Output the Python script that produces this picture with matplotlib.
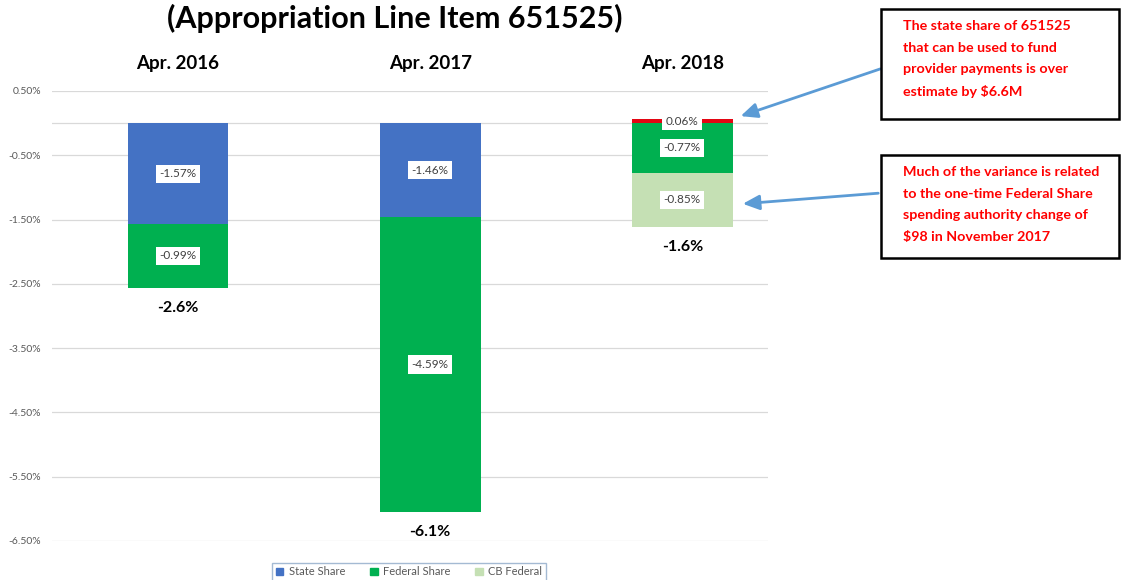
import numpy as np
from matplotlib import pyplot as plt
from matplotlib.patches import Patch

plt.rcParams['font.family'] = ['Lato', 'DejaVu Sans']

categories = ["Apr. 2016", "Apr. 2017", "Apr. 2018"]
state_share = [-1.57, -1.46, 0.06]
federal_share = [-0.99, -4.59, -0.77]
cb_federal = [0.0, 0.0, -0.85]
totals = [-2.6, -6.1, -1.6]
y_ticks = [0.5, -0.5, -1.5, -2.5, -3.5, -4.5, -5.5, -6.5]

#
# colours
#

blue = "#4472C4"
green = "#00B050"
light_green = "#C5E0B4"
red = "#E30613"
grid_col = "#D9D9D9"

fig = plt.figure(figsize=(11.24, 5.8), dpi=100)
ax = fig.add_axes([52 / 1124, 39 / 580, 716 / 1124, 450 / 580])

x = np.arange(len(categories))
width = 0.4

state = np.array(state_share)
federal = np.array(federal_share)
cb = np.array(cb_federal)

state_cols = [blue if v < 0 else red for v in state]
ax.bar(x, state, width, color=state_cols, zorder=2)
fed_bottom = np.minimum(state, 0)
ax.bar(x, federal, width, bottom=fed_bottom, color=green, zorder=2)
cb_bottom = fed_bottom + federal
ax.bar(x, cb, width, bottom=cb_bottom, color=light_green, zorder=2)

box = dict(boxstyle="square,pad=0.3", fc="white", ec="none")


def seg_label(xi, bottom, val):
    if val == 0:
        return
    ax.text(xi, bottom + val / 2, f"{val:.2f}%", ha="center", va="center",
            fontsize=8.5, color="#404040", bbox=box, zorder=3)


for i in range(len(categories)):
    seg_label(x[i], 0, state[i])
    seg_label(x[i], fed_bottom[i], federal[i])
    seg_label(x[i], cb_bottom[i], cb[i])
    bottom = cb_bottom[i] + cb[i]
    ax.text(x[i], bottom - 0.31, f"{totals[i]:.1f}%", ha="center", va="center",
            fontsize=11.5, fontweight="bold", color="black")
    ax.text(x[i], 1.06, categories[i], ha="center", va="center", fontsize=13.5,
            fontweight="bold", color="black", transform=ax.get_xaxis_transform())

ax.set_xlim(-0.5, 2.34)
ax.set_ylim(-6.5, 0.5)
ax.set_yticks(y_ticks)
ax.set_yticklabels([f"{t:.2f}%" for t in y_ticks], fontsize=7.5, color="#595959")
ax.set_xticks([])
ax.tick_params(axis="y", length=0, pad=8)
ax.grid(axis="y", color=grid_col, lw=0.9, zorder=0)
ax.axhline(0, color=grid_col, lw=0.9, zorder=1)
for s in ax.spines.values():
    s.set_visible(False)

fig.text(395 / 1124, 1 - 18 / 580, "(Appropriation Line Item 651525)",
         ha="center", va="center", fontsize=22, fontweight="bold")

#
# legend
#

handles = [Patch(color=blue), Patch(color=green), Patch(color=light_green)]
leg = fig.legend(handles, ["State Share", "Federal Share", "CB Federal"], ncol=3,
                 loc="upper center", bbox_to_anchor=(409 / 1124, 1 - 557 / 580),
                 fontsize=8, frameon=True, fancybox=False, handlelength=0.7,
                 handleheight=0.7, columnspacing=2.2, handletextpad=0.5,
                 borderpad=0.35)
leg.get_frame().set_edgecolor("#8EA9C8")
for t in leg.get_texts():
    t.set_color("#595959")

#
# callouts
#

note1 = ("The state share of 651525\nthat can be used to fund\n"
         "provider payments is over\nestimate by $6.6M")
note2 = ("Much of the variance is related\nto the one-time Federal Share\n"
         "spending authority change of\n$98 in November 2017")

for (y0, y1), note in [((9, 119), note1), ((155, 258), note2)]:
    rect = plt.Rectangle((881 / 1124, 1 - y1 / 580), 238 / 1124, (y1 - y0) / 580,
                         transform=fig.transFigure, fc="white", ec="black", lw=1.8)
    fig.patches.append(rect)
    fig.text(903 / 1124, 1 - (y0 + 11) / 580, note, ha="left", va="top",
             fontsize=10.3, fontweight="bold", color="#FF0000", linespacing=1.95)

arrow = dict(arrowstyle="-|>,head_length=1.0,head_width=0.45", color="#5B9BD5", lw=2)
ax.annotate("", xy=(738 / 1124, 1 - 117 / 580), xytext=(883 / 1124, 1 - 68 / 580),
            xycoords="figure fraction", textcoords="figure fraction",
            arrowprops=arrow, annotation_clip=False)
ax.annotate("", xy=(740 / 1124, 1 - 204 / 580), xytext=(881 / 1124, 1 - 193 / 580),
            xycoords="figure fraction", textcoords="figure fraction",
            arrowprops=arrow, annotation_clip=False)

fig.savefig("out.png", dpi=100)
